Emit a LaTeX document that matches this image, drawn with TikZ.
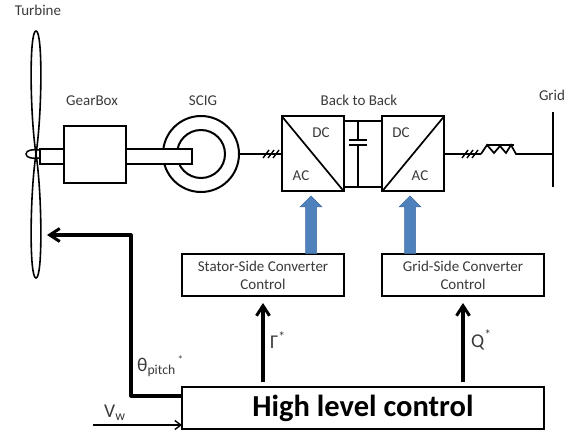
\documentclass[tikz,border=0pt]{standalone}
\usepackage{fontspec}
\setmainfont{Carlito}
\usetikzlibrary{arrows.meta,calc}
\definecolor{ink}{HTML}{3A3A3A}
\definecolor{bluefill}{HTML}{4F81BD}
\definecolor{blueedge}{HTML}{3F6C9F}
\tikzset{
 x=1pt,y=-1pt,
 lab/.style={font=\fontsize{15}{17}\selectfont,text=ink,inner sep=0pt},
 biglab/.style={font=\fontsize{19.5}{22}\selectfont,text=ink,inner sep=0pt,anchor=west},
 heavybox/.style={draw=black,line width=2pt,fill=white,inner sep=0pt,outer sep=0pt},
 ctrlbox/.style={draw=black,line width=1.6pt,fill=white,align=center,inner sep=0pt,outer sep=0pt,font=\fontsize{15}{18}\selectfont,text=ink},
 wire/.style={line width=1.7pt},
 fat/.style={line width=3.2pt,line join=round,-{Straight Barb[length=10pt,width=13pt,line width=3pt]}},
 bluearrow/.style={draw=blueedge,fill=bluefill,line width=.5pt},
 slash/.style={line width=1.4pt},
}
\begin{document}
\begin{tikzpicture}
\useasboundingbox (0,0) rectangle (577,435);
% turbine
\draw[line width=1.5pt,fill=white] (26,154) .. controls (26,150) and (33,149) .. (40,150) -- (40,158) .. controls (33,159) and (26,158) .. (26,154) -- cycle;
% shaft
\node[heavybox,minimum width=152pt,minimum height=15pt] (shaft0) at (116,156.5) {};
% SCIG
\node[circle,draw,line width=2pt,minimum size=76pt,inner sep=0pt] (scigout) at (201,154) {};
\node[circle,draw,line width=2pt,minimum size=48pt,inner sep=0pt] (scigin) at (201,154) {};
\node[heavybox,minimum width=152pt,minimum height=15pt] (shaft) at (116,156.5) {};
\node[heavybox,minimum width=62pt,minimum height=57pt] (gear) at (95,154.5) {};
% blades
\draw[line width=1.6pt,fill=white] (36,154) .. controls (30,115) and (29,31) .. (36,31) .. controls (43,31) and (42,115) .. (36,154);
\draw[line width=1.6pt,fill=white] (36,154) .. controls (30,193) and (29,278) .. (36,278) .. controls (43,278) and (42,193) .. (36,154);
% converters
\node[heavybox,minimum width=62pt,minimum height=75pt] (conv1) at (313,154) {};
\node[heavybox,minimum width=62pt,minimum height=75pt] (conv2) at (413,154) {};
\draw[wire] (conv1.north west) -- (conv1.south east);
\draw[wire] (conv2.south west) -- (conv2.north east);
\coordinate (b1) at (344,121); \coordinate (b2) at (382,121);
\coordinate (b3) at (344,187); \coordinate (b4) at (382,187);
\draw[wire] (b1) -- (b2);
\draw[wire] (b3) -- (b4);
\coordinate (c1) at (358,121); \coordinate (c2) at (358,140);
\coordinate (c3) at (358,145); \coordinate (c4) at (358,187);
\draw[wire] (c1) -- (c2);
\draw[wire] (c3) -- (c4);
\draw[line width=1.8pt] (349,140) -- (367,140);
\draw[line width=1.8pt] (349,145) -- (367,145);
% wires
\draw[wire] (scigout.east) -- (conv1.west);
\foreach \xx in {263,268,273}{\draw[slash] (\xx,158) -- (\xx+6,150);}
\coordinate (bar) at (553,154);
\coordinate (coilL) at (481,154);
\coordinate (coilR) at (516,154);
\draw[wire] (conv2.east) -- (coilL);
\foreach \xx in {462,467,472}{\draw[slash] (\xx,158) -- (\xx+6,150);}
\draw[wire] (coilL) -- (487,145) -- (494,153) -- (500,146) -- (506,153) -- (511,145) -- (516,154) -- (bar);
\draw[line width=1.8pt] (487,145) -- (514,145);
\draw[line width=2pt] (553,112) -- (553,187);
% control boxes
\node[ctrlbox,minimum width=162pt,minimum height=42pt] (stator) at (263,275) {Stator-Side Converter\\Control};
\node[ctrlbox,minimum width=162pt,minimum height=42pt] (grid) at (463,275) {Grid-Side Converter\\Control};
\node[heavybox,minimum width=362pt,minimum height=42pt,font=\fontsize{30.5}{33}\selectfont\bfseries] (high) at (363,408) {High level control};
% blue arrows
\coordinate (a1) at (311,196);
\coordinate (a2) at (410,196);
\foreach \t in {a1,a2}{
 \draw[bluearrow] ($(\t)$) -- ++(11,11) -- ++(-5.5,0) -- ++(0,46.5) -- ++(-11,0) -- ++(0,-46.5) -- ++(-5.5,0) -- cycle;
}
% thick arrows
\draw[fat] (stator.south |- 0,382) coordinate (g0) -- (stator.south |- 0,303);
\draw[fat] (grid.south |- 0,382) coordinate (q0) -- (grid.south |- 0,303);
\coordinate (bend) at (131,396);
\coordinate (pitchend) at (47,235);
\draw[fat] (high.west |- bend) -- (bend) -- (bend |- pitchend) -- (pitchend);
\coordinate (vw) at (93,425);
\draw[line width=1.5pt,-{Straight Barb[length=6pt,width=9pt,line width=1.4pt]}] (vw) -- (high.west |- vw);
% labels
\node[lab] (tTurbine) at (38,10) {Turbine};
\node[lab] (tGear) at (92,101) {GearBox};
\node[lab] (tScig) at (203,101) {SCIG};
\node[lab] (tBack) at (359,100) {Back to Back};
\node[lab] (tGrid) at (552,95) {Grid};
\node[lab] (dc1) at (321,133) {DC};
\node[lab] (ac1) at (301,176) {AC};
\node[lab] (dc2) at (401,133) {DC};
\node[lab] (ac2) at (420,176) {AC};
\node[biglab] (tTheta) at (137,366) {θ\textsubscript{pitch}\raisebox{8pt}{\fontsize{11}{11}\selectfont\,*}};
\node[biglab] (tGamma) at (270,340) {Γ\textsuperscript{*}};
\node[biglab] (tQ) at (471,340) {Q\textsuperscript{*}};
\node[biglab] (tV) at (104,413) {V\textsubscript{w}};
\end{tikzpicture}
\end{document}
